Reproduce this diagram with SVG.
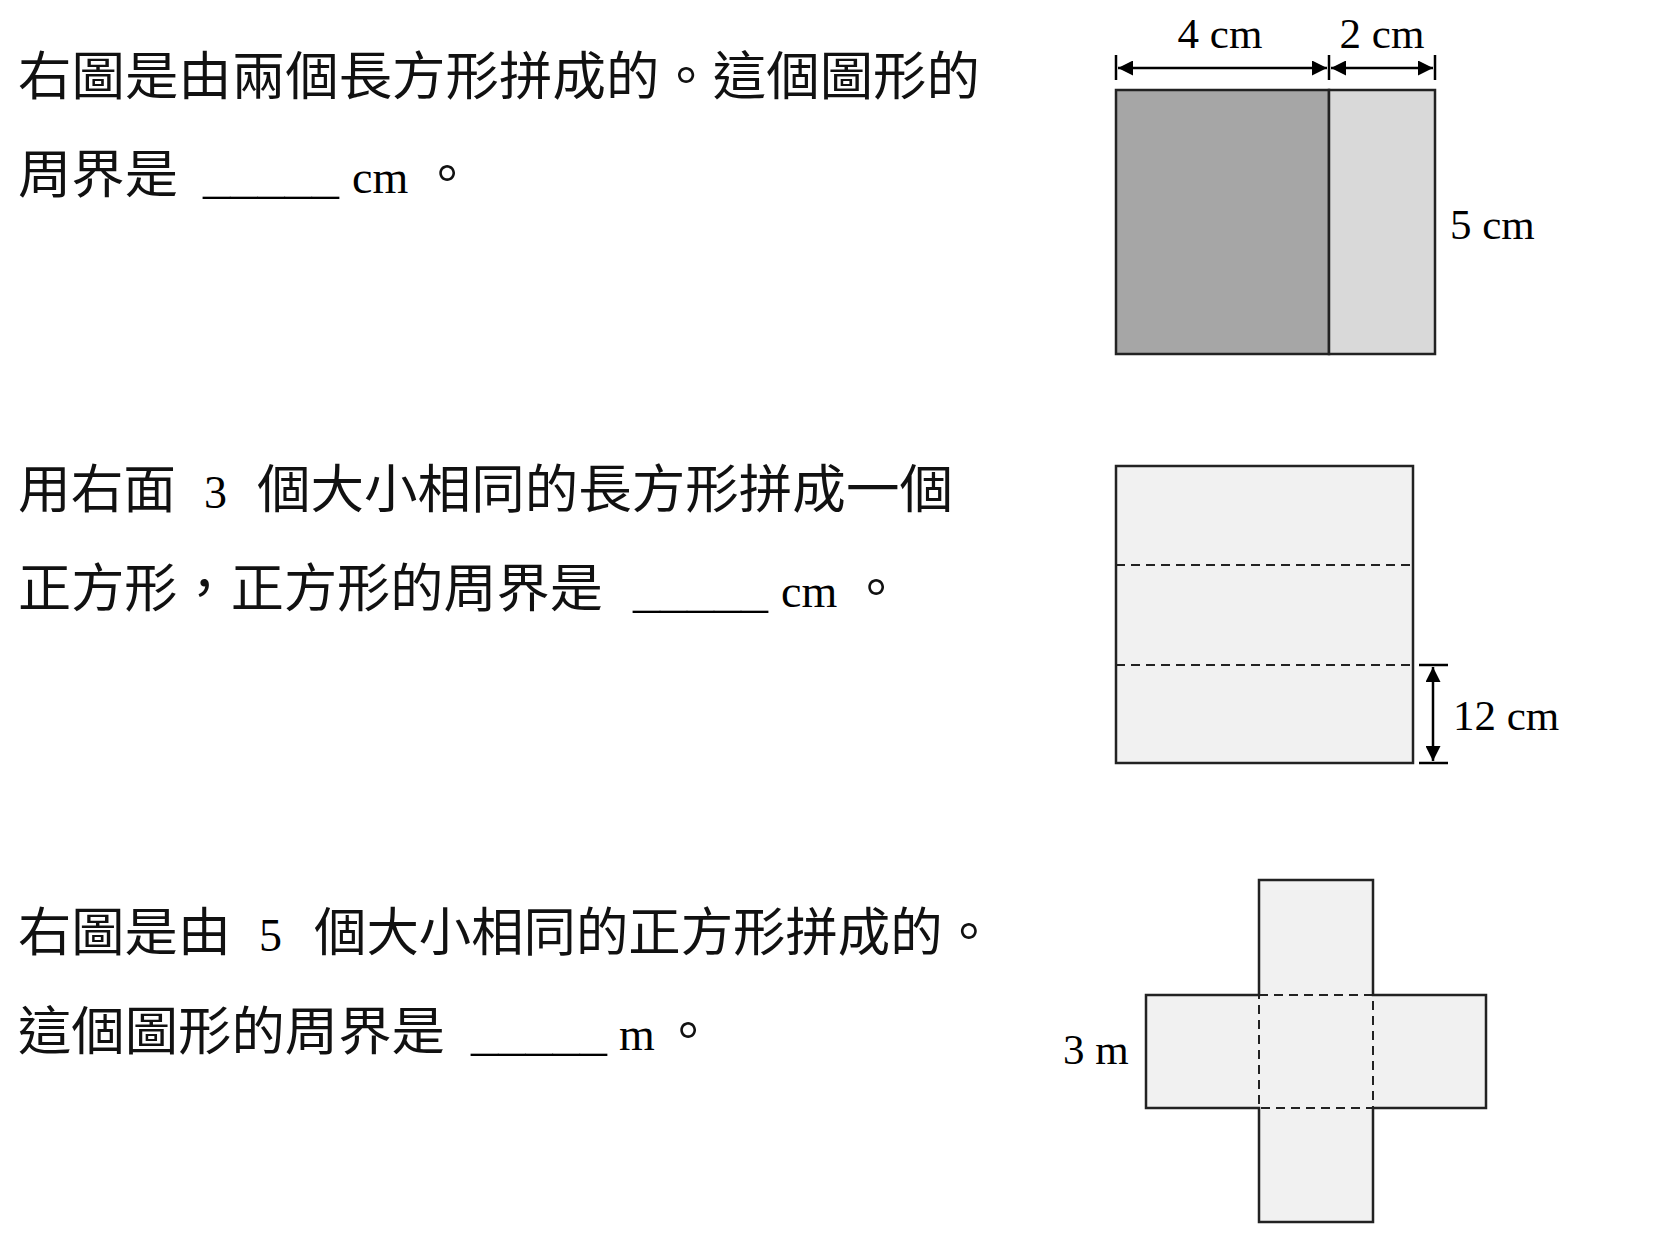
<svg xmlns="http://www.w3.org/2000/svg" width="1660" height="1256" viewBox="0 0 1660 1256">
<style>
.zh{font-family:"Noto Sans CJK TC","Noto Sans CJK SC",sans-serif;font-size:52px;fill:#111}
.en{font-family:"Liberation Serif",serif;font-size:46px;fill:#000}
.lb{font-family:"Liberation Serif",serif;font-size:43px;fill:#000}
.sh{stroke:#222;stroke-width:2.5}
.ds{stroke:#222;stroke-width:2;stroke-dasharray:9,6;fill:none}
.ln{stroke:#000;stroke-width:2.5;fill:none}
</style>
<defs>
<marker id="ah" viewBox="0 0 10 10" refX="10" refY="5" markerWidth="6" markerHeight="6" orient="auto-start-reverse" markerUnits="strokeWidth"><path d="M0,0 L10,5 L0,10 Z" fill="#000"/></marker>
</defs>
<rect width="1660" height="1256" fill="#fff"/>
<g id="q1-text">
<text class="zh" x="18" y="95" textLength="962" lengthAdjust="spacingAndGlyphs">右圖是由兩個長方形拼成的。這個圖形的</text>
<text class="zh" x="18" y="193" textLength="160" lengthAdjust="spacingAndGlyphs">周界是</text>
<text class="en" x="203" y="193" textLength="136" lengthAdjust="spacingAndGlyphs">_____</text>
<text class="en" x="352" y="193">cm</text>
<text class="zh" x="421" y="193">。</text>
</g>
<g id="q1-figure">
<rect x="1116" y="90" width="213" height="264" fill="#a6a6a6" class="sh"/>
<rect x="1329" y="90" width="106" height="264" fill="#d9d9d9" class="sh"/>
<line x1="1329" y1="90" x2="1329" y2="354" class="ds"/>
<line x1="1116" y1="55" x2="1116" y2="80" class="ln"/>
<line x1="1329" y1="55" x2="1329" y2="80" class="ln"/>
<line x1="1435" y1="55" x2="1435" y2="80" class="ln"/>
<text class="lb" x="1220" y="48" text-anchor="middle">4 cm</text>
<text class="lb" x="1382" y="48" text-anchor="middle">2 cm</text>
<text class="lb" x="1450" y="239">5 cm</text>
</g>
<g id="q2-text">
<text class="zh" x="18" y="508" textLength="158" lengthAdjust="spacingAndGlyphs">用右面</text>
<text class="en" x="204" y="508">3</text>
<text class="zh" x="257" y="508" textLength="696" lengthAdjust="spacingAndGlyphs">個大小相同的長方形拼成一個</text>
<text class="zh" x="18" y="607" textLength="585" lengthAdjust="spacingAndGlyphs">正方形，正方形的周界是</text>
<text class="en" x="633" y="607" textLength="135" lengthAdjust="spacingAndGlyphs">_____</text>
<text class="en" x="781" y="607">cm</text>
<text class="zh" x="850" y="607">。</text>
</g>
<g id="q2-figure">
<rect x="1116" y="466" width="297" height="297" fill="#f1f1f1" class="sh"/>
<line x1="1116" y1="565" x2="1413" y2="565" class="ds"/>
<line x1="1116" y1="665" x2="1413" y2="665" class="ds"/>
<line x1="1419" y1="665" x2="1448" y2="665" class="ln"/>
<line x1="1419" y1="763" x2="1448" y2="763" class="ln"/>
<text class="lb" x="1453" y="730">12 cm</text>
</g>
<g id="q3-text">
<text class="zh" x="18" y="951" textLength="213" lengthAdjust="spacingAndGlyphs">右圖是由</text>
<text class="en" x="259" y="951">5</text>
<text class="zh" x="314" y="951" textLength="681" lengthAdjust="spacingAndGlyphs">個大小相同的正方形拼成的。</text>
<text class="zh" x="18" y="1050" textLength="427" lengthAdjust="spacingAndGlyphs">這個圖形的周界是</text>
<text class="en" x="471" y="1050" textLength="136" lengthAdjust="spacingAndGlyphs">_____</text>
<text class="en" x="619" y="1050">m</text>
<text class="zh" x="662" y="1050">。</text>
</g>
<g id="q3-figure">
<path d="M1259,880 H1373 V995 H1486 V1108 H1373 V1222 H1259 V1108 H1146 V995 H1259 Z" fill="#f1f1f1" class="sh"/>
<rect x="1259" y="995" width="114" height="113" class="ds"/>
<text class="lb" x="1063" y="1064">3 m</text>
</g>
<g id="connectors">
<line x1="1118" y1="68" x2="1327" y2="68" class="ln" marker-start="url(#ah)" marker-end="url(#ah)"/>
<line x1="1331" y1="68" x2="1433" y2="68" class="ln" marker-start="url(#ah)" marker-end="url(#ah)"/>
<line x1="1433" y1="667" x2="1433" y2="761" class="ln" marker-start="url(#ah)" marker-end="url(#ah)"/>
</g>
</svg>
